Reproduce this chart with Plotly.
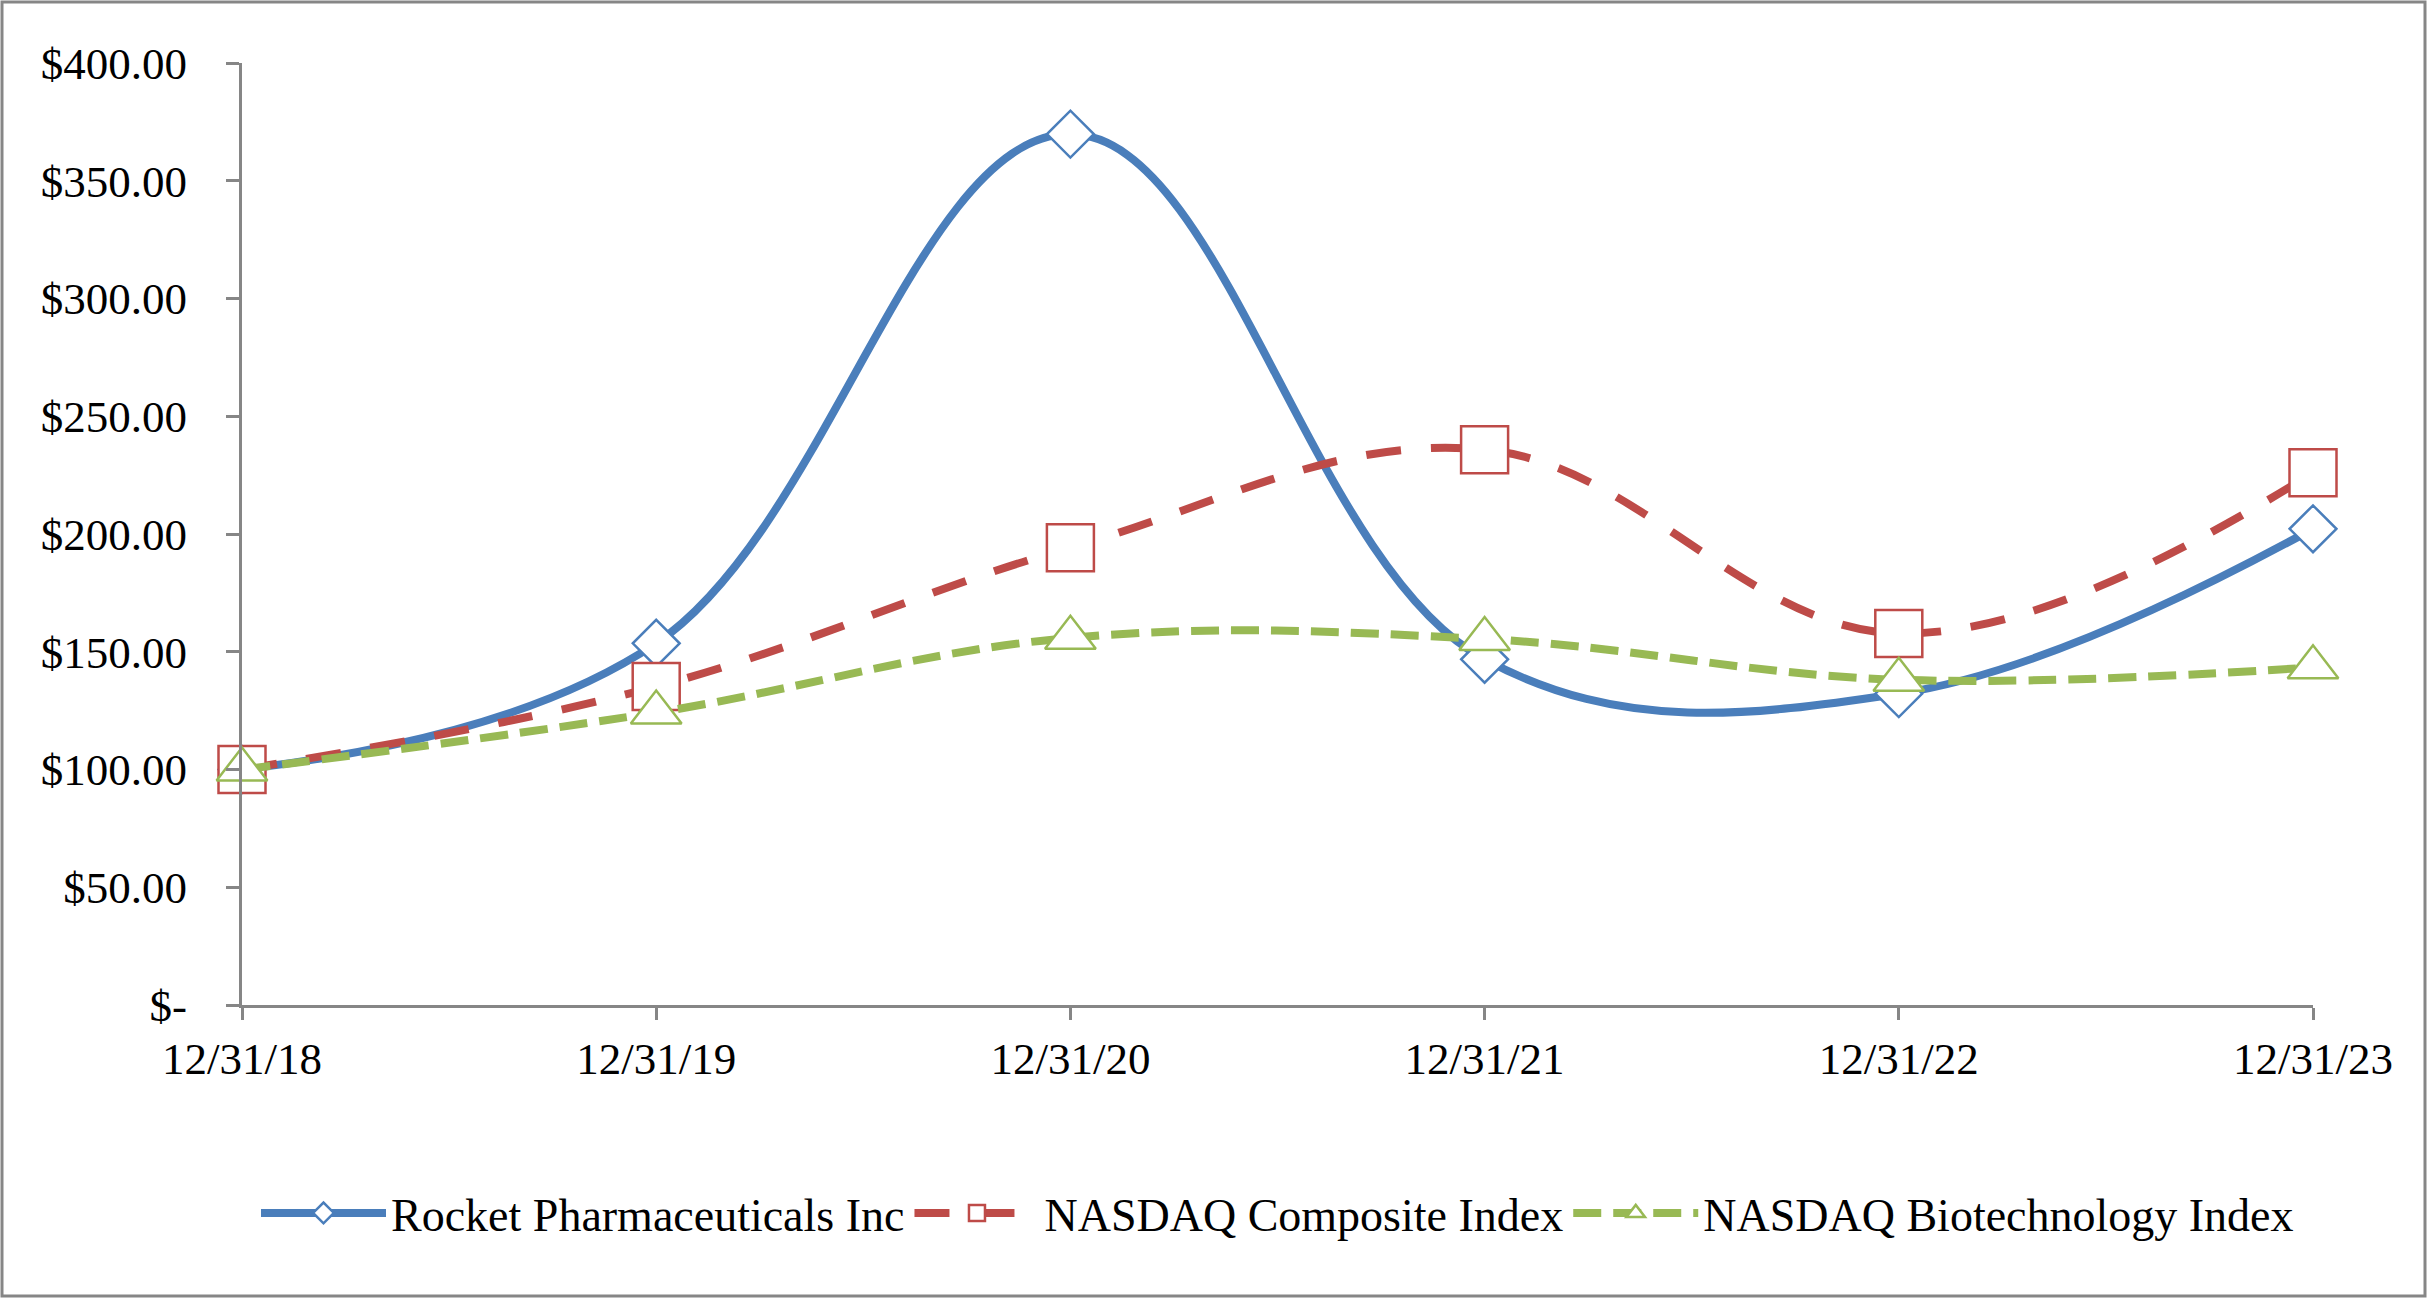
import plotly.graph_objects as go

# cumulative total return values
dates = ["12/31/18", "12/31/19", "12/31/20", "12/31/21", "12/31/22", "12/31/23"]
rocket = [100.00, 153.6, 369.8, 146.8, 132.2, 202.2]
nasdaq_comp = [100.00, 135.2, 194.2, 235.8, 157.8, 226.0]
nasdaq_bio = [100.00, 124.2, 155.9, 155.4, 138.1, 143.4]

y_ticks = [0, 50, 100, 150, 200, 250, 300, 350, 400]
y_labels = ["$-", "$50.00", "$100.00", "$150.00", "$200.00",
            "$250.00", "$300.00", "$350.00", "$400.00"]

W, H = 2427, 1298
L, R, T, B = 242, 114, 63, 293
pw, ph = W - L - R, H - T - B

FONT = "Liberation Serif, Times New Roman, serif"
AXIS_GRAY = "#868686"

series = [
    ("Rocket Pharmaceuticals Inc", rocket, "#4A7EBB", "solid", "diamond", 36),
    ("NASDAQ Composite Index", nasdaq_comp, "#BE4B48", "35px,30px", "square", 47),
    ("NASDAQ Biotechnology Index", nasdaq_bio, "#98B954", "28px,12px", "triangle-up", 44),
]

fig = go.Figure()

for name, vals, color, dash, sym, size in series:
    fig.add_trace(go.Scatter(
        x=list(range(len(dates))),
        y=vals,
        name=name,
        mode="lines+markers",
        line=dict(color=color, width=8, dash=dash, shape="spline", smoothing=1.1),
        marker=dict(symbol=sym, size=size, color="white",
                    line=dict(color=color, width=2.5)),
        cliponaxis=False,
    ))

fig.update_layout(
    width=W, height=H,
    margin=dict(l=L, r=R, t=T, b=B),
    paper_bgcolor="white",
    plot_bgcolor="white",
    font=dict(family=FONT, size=45, color="black"),
    showlegend=True,
    legend=dict(
        orientation="h",
        x=0.5, xanchor="center",
        y=-(1213 - (H - B)) / ph, yanchor="middle",
        font=dict(family=FONT, size=46, color="black"),
        itemwidth=125,
        bgcolor="rgba(0,0,0,0)",
    ),
    xaxis=dict(
        range=[0, len(dates) - 1],
        tickvals=list(range(len(dates))),
        ticktext=dates,
        showgrid=False, zeroline=False,
        showline=True, linecolor=AXIS_GRAY, linewidth=3,
        ticks="outside", ticklen=12, tickwidth=3, tickcolor=AXIS_GRAY,
        ticklabelstandoff=0,
    ),
    yaxis=dict(
        range=[0, 400],
        tickvals=y_ticks,
        ticktext=y_labels,
        showgrid=False, zeroline=False,
        showline=True, linecolor=AXIS_GRAY, linewidth=3,
        ticks="outside", ticklen=13, tickwidth=3, tickcolor=AXIS_GRAY,
        ticklabelstandoff=30,
    ),
)

# grey frame around the whole chart (pixel -> paper coordinates)
def px_x(p):
    return (p - L) / pw

def px_y(p):
    return (H - B - p) / ph

fig.add_shape(
    type="rect", xref="paper", yref="paper",
    x0=px_x(2), x1=px_x(W - 2),
    y0=px_y(H - 2), y1=px_y(2),
    line=dict(color=AXIS_GRAY, width=3),
    fillcolor="rgba(0,0,0,0)",
    layer="below",
)

fig.write_html("out.html", config={"displayModeBar": False},
               post_script="document.body.style.margin='0';")
